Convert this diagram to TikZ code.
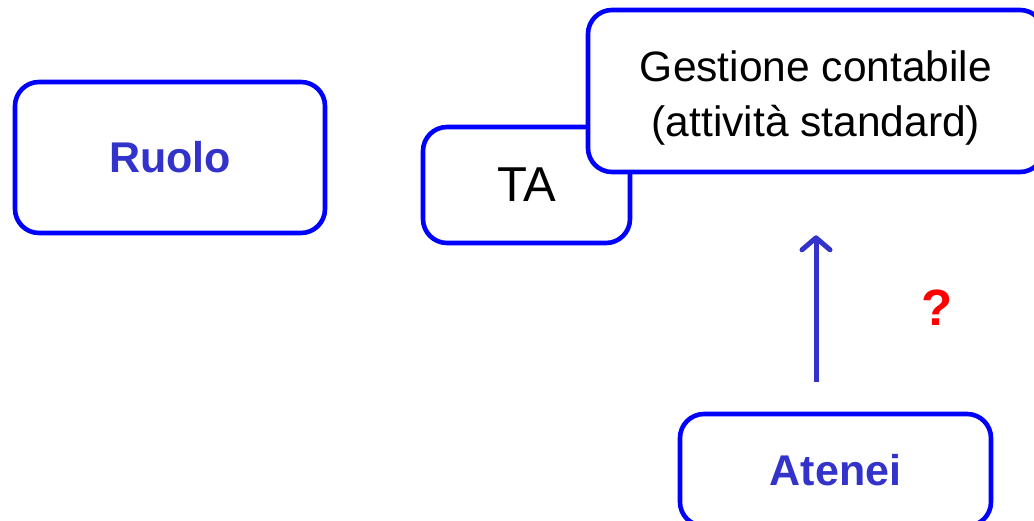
\documentclass[tikz,border=0pt]{standalone}
\usepackage{fontspec}
\setmainfont{Liberation Sans}
\usetikzlibrary{positioning, arrows.meta}
\definecolor{boxblue}{HTML}{0000FF}
\definecolor{txtblue}{HTML}{3333CC}

\begin{document}
\begin{tikzpicture}[
  x=1pt, y=-1pt,
  box/.style={rectangle, rounded corners=24pt, draw=boxblue, line width=4.6pt,
              fill=white, inner sep=0pt, align=center},
  rolebox/.style={box, font=\fontsize{43}{50}\selectfont\bfseries, text=txtblue},
  plainbox/.style={box, text=black},
  uparrow/.style={-{Straight Barb[length=12pt, width=28pt, line cap=round, line join=round]},
                  txtblue, line width=5pt}
]
  \useasboundingbox (0,0) rectangle (1034,520);
  \node[rolebox, minimum width=310pt, minimum height=151pt] (ruolo) at (170,157.5) {Ruolo};
  \node[plainbox, minimum width=207pt, minimum height=116pt,
        font=\fontsize{49}{56}\selectfont] (ta) at (526.5,185) {TA};
  \node[plainbox, minimum width=456pt, minimum height=162pt,
        font=\fontsize{42.5}{55}\selectfont] (gestione) at (816,91)
        {\rule{0pt}{45pt}Gestione contabile\\(attività standard)};
  \node[rolebox, minimum width=311pt, minimum height=112pt] (atenei) at (835.5,470) {Atenei};
  \draw[uparrow, shorten <=30pt, shorten >=61pt] (gestione.south |- atenei.north) -- (gestione.south);
  \node[text=red, font=\fontsize{51}{55}\selectfont\bfseries] (domanda) at (937,308) {?};
\end{tikzpicture}
\end{document}
